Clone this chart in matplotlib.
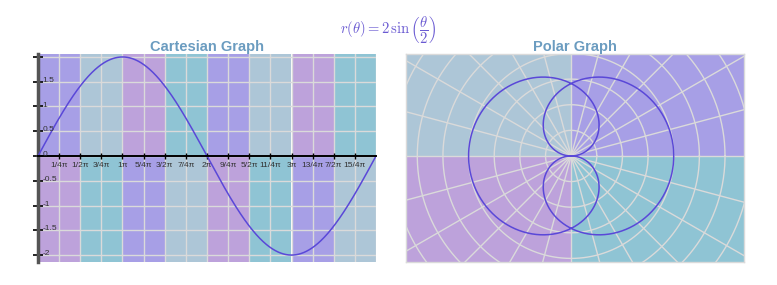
import numpy as np
import matplotlib
matplotlib.use("Agg")
import matplotlib.pyplot as plt

plt.rcParams['mathtext.fontset'] = 'cm'

# r(theta) = amp * sin(freq * theta)
amp, freq = 2, 0.5
theta_max = 4 * np.pi

# quadrant colours: Q1, Q2, Q3, Q4
quad_colors = ['#a79fe6', '#adc6d7', '#bda2db', '#8fc4d4']

x_ticks = np.arange(1, 16) * np.pi / 4
x_labels = ['1/4π', '1/2π', '3/4π', '1π', '5/4π', '3/2π', '7/4π', '2π',
            '9/4π', '5/2π', '11/4π', '3π', '13/4π', '7/2π', '15/4π']
y_ticks = [-2, -1.5, -1, -0.5, 0, 0.5, 1, 1.5, 2]
y_labels = ['-2', '-1.5', '-1', '-0.5', '0', '0.5', '1', '1.5', '']

polar_rings = np.arange(0.5, 4.01, 0.5)
polar_spokes = np.arange(0, 360, 15)

grid_col = '#dadada'
curve_col = '#5a48d8'
title_col = '#6b9cc0'
tick_font = ['Liberation Sans', 'DejaVu Sans']

theta = np.linspace(0, theta_max, 800)
r = amp * np.sin(freq * theta)

fig = plt.figure(figsize=(7.77, 2.85), dpi=100)
W, H = 777, 285

# ---- cartesian ----
ax = fig.add_axes([38 / W, 23 / H, 338 / W, 208 / H])
ax.set_xlim(0, theta_max)
ax.set_ylim(-2.14, 2.06)
band = np.pi / 2
for i in range(8):
    ax.axvspan(i * band, (i + 1) * band, ymin=0, ymax=2.14 / 4.2,
               color=quad_colors[(i + 2) % 4], lw=0, zorder=0)
    ax.axvspan(i * band, (i + 1) * band, ymin=2.14 / 4.2, ymax=1,
               color=quad_colors[i % 4], lw=0, zorder=0)
for xv in np.concatenate([x_ticks, [theta_max]]):
    ax.axvline(xv, color=grid_col, lw=1, zorder=1)
for yv in y_ticks:
    ax.axhline(yv, color=grid_col, lw=1, zorder=1)
ax.plot(theta, r, color=curve_col, lw=1.1, zorder=3)

for s in ['top', 'right']:
    ax.spines[s].set_visible(False)
ax.spines['bottom'].set_position(('data', 0))
ax.spines['bottom'].set_color('black')
ax.spines['bottom'].set_linewidth(1.4)
ax.spines['bottom'].set_zorder(4)
ax.spines['left'].set_color('#555555')
ax.spines['left'].set_linewidth(2.5)
ax.set_xticks(x_ticks)
ax.set_xticklabels(x_labels, family=tick_font)
ax.set_yticks(y_ticks)
ax.set_yticklabels([''] * len(y_ticks))
ax.tick_params(axis='x', direction='inout', length=5, width=1, pad=1.5,
               labelsize=6, labelcolor='#333333')
ax.tick_params(axis='y', direction='inout', length=7, width=1.2)
for yv, lab in zip(y_ticks, y_labels):
    ax.annotate(lab, (0, yv), xytext=(3, 1), textcoords='offset points',
                ha='left', va='center', fontsize=6, family=tick_font,
                color='#333333', zorder=5)
ax.set_title('Cartesian Graph', fontsize=10.5, fontweight='bold',
             family='Liberation Sans', color=title_col, pad=1)

# ---- polar ----
px = fig.add_axes([406 / W, 23 / H, 338 / W, 208 / H])
xl, xr, yb, yt = -3.22, 3.37, -2.07, 1.99
px.set_xlim(xl, xr)
px.set_ylim(yb, yt)
px.fill_between([0, xr], 0, yt, color=quad_colors[0], lw=0, zorder=0)
px.fill_between([xl, 0], 0, yt, color=quad_colors[1], lw=0, zorder=0)
px.fill_between([xl, 0], yb, 0, color=quad_colors[2], lw=0, zorder=0)
px.fill_between([0, xr], yb, 0, color=quad_colors[3], lw=0, zorder=0)
t = np.linspace(0, 2 * np.pi, 300)
for rr in polar_rings:
    px.plot(rr * np.cos(t), rr * np.sin(t), color=grid_col, lw=1, zorder=1)
for a in np.radians(polar_spokes):
    px.plot([0, 5 * np.cos(a)], [0, 5 * np.sin(a)], color=grid_col, lw=1, zorder=1)
px.plot(r * np.cos(theta), r * np.sin(theta), color=curve_col, lw=1.1, zorder=3)
px.set_xticks([])
px.set_yticks([])
for s in px.spines.values():
    s.set_color(grid_col)
    s.set_linewidth(1)
px.set_title('Polar Graph', fontsize=10.5, fontweight='bold',
             family='Liberation Sans', color=title_col, pad=1)

fig.text(388 / W, 1 - 30 / H, r'$r(\theta) = 2\,\sin\left(\dfrac{\theta}{2}\right)$',
         ha='center', va='center', fontsize=10.5, color='#6a5ad2')

fig.savefig('out.png', dpi=100)
